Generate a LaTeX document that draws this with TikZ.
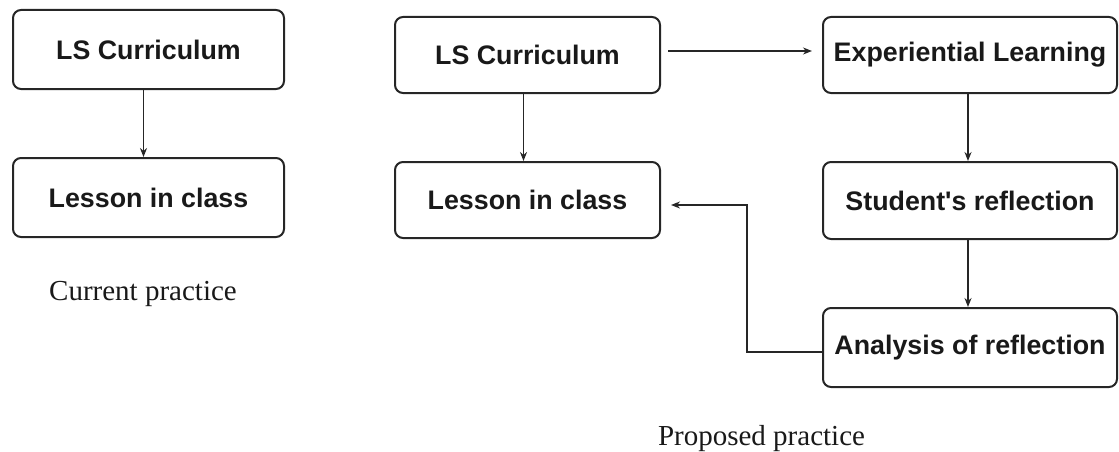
\documentclass[tikz,border=0pt]{standalone}
\usepackage{fontspec}
\setmainfont{Liberation Serif}
\newfontfamily\boxfont{Liberation Sans}
\usetikzlibrary{arrows.meta}
\tikzset{
  stagebox/.style={draw=black!85, line width=2pt, rounded corners=8pt, inner sep=0pt,
    font=\boxfont\bfseries\fontsize{26.8}{32}\selectfont, text=black!90},
  flow/.style={draw=black!85, line width=1.6pt, -{Stealth[length=9pt,width=7pt]}},
  caption/.style={font=\fontsize{29}{34}\selectfont, text=black!90}
}
\begin{document}
\begin{tikzpicture}[x=1pt,y=-1pt]
\useasboundingbox (0,0) rectangle (1119,452);
% current practice
\node[stagebox, minimum width=271pt, minimum height=79pt] (ls1) at (148.5,49.5) {LS Curriculum};
\node[stagebox, minimum width=271pt, minimum height=79pt] (les1) at (148.5,197.5) {Lesson in class};
\node[caption] (cap1) at (143,294) {Current practice};
\draw[flow] ([xshift=-5pt]ls1.south) -- ([xshift=-5pt]les1.north);
% proposed practice
\node[stagebox, minimum width=265pt, minimum height=76pt] (ls2) at (527.5,55) {LS Curriculum};
\node[stagebox, minimum width=265pt, minimum height=76pt] (les2) at (527.5,200) {Lesson in class};
\node[stagebox, minimum width=294pt, minimum height=76pt] (exp) at (970,55) {Experiential Learning};
\node[stagebox, minimum width=294pt, minimum height=77pt] (stu) at (970,200.5) {Student's reflection};
\node[stagebox, minimum width=294pt, minimum height=79pt] (ana) at (970,347.5) {Analysis of reflection};
\node[caption] (cap2) at (761.5,439) {Proposed practice};
\coordinate (bend1) at (747,352);
\coordinate (bend2) at (747,205);
\draw[flow] ([xshift=-4pt]ls2.south) -- ([xshift=-4pt]les2.north);
\draw[flow, shorten <=7pt, shorten >=10pt] ([yshift=4pt]ls2.east) -- ([yshift=4pt]exp.west);
\draw[flow] ([xshift=-2pt]exp.south) -- ([xshift=-2pt]stu.north);
\draw[flow] ([xshift=-2pt]stu.south) -- ([xshift=-2pt]ana.north);
\draw[flow, shorten >=10pt] (ana.west |- bend1) -- (bend1) -- (bend2) -- (les2.east |- bend2);
\end{tikzpicture}
\end{document}
